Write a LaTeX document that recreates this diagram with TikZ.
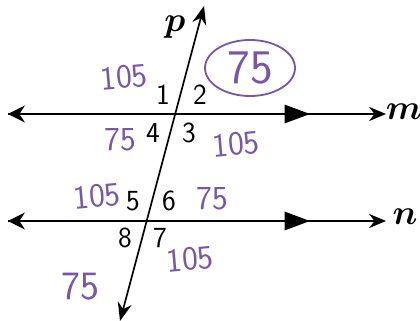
\documentclass[tikz,border=0pt]{standalone}
\usetikzlibrary{arrows.meta}
\usepackage{bm}
\definecolor{penpurple}{RGB}{118,88,165}
\begin{document}
\begin{tikzpicture}[
    x=0.025cm, y=-0.025cm,
    line/.style={draw, line width=1.4pt},
    angle/.style={font=\sffamily\huge, inner sep=0pt},
    hand/.style={font=\sffamily\huge, text=penpurple, inner sep=0pt, scale=1.15},
    lbl/.style={font=\Huge, inner sep=0pt},
    parmark/.style={-{Triangle[length=18pt, width=13pt]}}
]
  \useasboundingbox (0,0) rectangle (420,321);
  % parallel lines
  \foreach \n/\y in {m/114, n/221} {
    \coordinate (\n L) at (8,\y);
    \coordinate (\n K) at (310,\y);
    \coordinate (\n R) at (386,\y);
    \draw[line, {Stealth[length=12pt, width=12pt]}-{Stealth[length=12pt, width=10pt]}] (\n L) -- (\n R);
    \draw[line, parmark] (\n L) -- (\n K);
  }
  \node[lbl] (labm) at (404,112) {$\bm{m}$};
  \node[lbl] (labn) at (405,217) {$\bm{n}$};
  % transversal
  \coordinate (pT) at (204,6);
  \coordinate (pB) at (120,321);
  \draw[line, line width=1.2pt, {Stealth[length=13pt, width=10pt]}-{Stealth[length=13pt, width=10pt]}] (pB) -- (pT);
  \node[lbl] (labp) at (175,27) {$\bm{p}$};
  % angle numbers
  \foreach \k/\x/\y in {1/163/95, 2/200/95, 4/153/133, 3/189/133,
                        5/133/201, 6/169/201, 8/125/238, 7/160/238} {
    \node[angle] (a\k) at (\x,\y) {\k};
  }
  % handwritten values
  \node[hand, rotate=5] (h1) at (124,77) {105};
  \node[hand, font=\sffamily\Huge, scale=1.2] (h2) at (250,68) {75};
  \draw[penpurple, line width=1.3pt] (h2) ellipse (45 and 28);
  \node[hand] (h4) at (120,140) {75};
  \node[hand, rotate=5] (h3) at (236,144) {105};
  \node[hand, rotate=5] (h5) at (97,196) {105};
  \node[hand] (h6) at (212,199) {75};
  \node[hand, rotate=5] (h7) at (190,259) {105};
  \node[hand, font=\sffamily\Huge] (h8) at (80,287) {75};
\end{tikzpicture}
\end{document}
